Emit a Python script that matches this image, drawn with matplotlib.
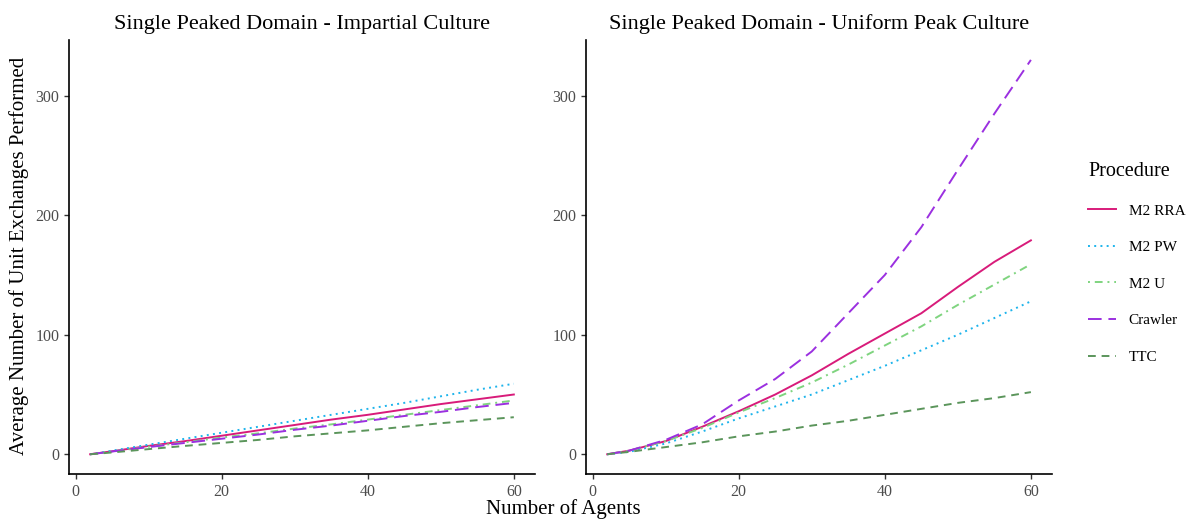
import matplotlib
matplotlib.use("Agg")
import matplotlib.pyplot as plt
from matplotlib.lines import Line2D

# number of agents
agents = [2, 5, 10, 15, 20, 25, 30, 35, 40, 45, 50, 55, 60]

procedures = ["M2 RRA", "M2 PW", "M2 U", "Crawler", "TTC"]

# impartial culture
ic_rra = [0, 2.5, 7, 11, 15.5, 20, 24.5, 29, 33, 37.5, 42, 46, 50]
ic_pw = [0, 3, 8, 13, 18, 23, 28, 33, 38, 43, 48.5, 54, 59]
ic_u = [0, 2.3, 6.3, 10, 14, 17.5, 21.5, 25, 29, 33, 37, 41, 45]
ic_crawler = [0, 2.3, 6, 9.5, 13, 16.5, 20.5, 24, 28, 32, 35.5, 39.5, 43]
ic_ttc = [0, 1.5, 4.3, 7, 9.5, 12, 15, 17.5, 20, 23, 26, 28.5, 31]

# uniform peak culture
up_rra = [0, 3, 11, 23, 36, 50, 66, 84, 101, 118, 140, 161, 179]
up_pw = [0, 2, 9, 19, 30, 40, 50, 62, 74, 87, 100, 114, 128]
up_u = [0, 3, 11, 22, 35, 47, 60, 75, 91, 107, 125, 142, 159]
up_crawler = [0, 3, 12, 25, 45, 63, 86, 118, 150, 190, 238, 285, 330]
up_ttc = [0, 2, 6, 10, 15, 19, 24, 28, 33, 38, 43, 47, 52]

colors = ["#D81B7A", "#1EB4EC", "#7FD47F", "#9B30E0", "#5B955B"]
styles = ["-", (0, (1, 2.2)), (0, (1, 2.5, 4, 2.5)), (0, (7, 3.5)), (0, (4, 3))]

plt.rcParams["font.family"] = ["Liberation Serif", "DejaVu Serif"]

fig = plt.figure(figsize=(11.95, 5.22), dpi=100)
ax1 = fig.add_axes([0.0577, 0.092, 0.39, 0.831])
ax2 = fig.add_axes([0.4904, 0.092, 0.39, 0.831])

panels = [
    (ax1, "Single Peaked Domain - Impartial Culture",
     [ic_rra, ic_pw, ic_u, ic_crawler, ic_ttc]),
    (ax2, "Single Peaked Domain - Uniform Peak Culture",
     [up_rra, up_pw, up_u, up_crawler, up_ttc]),
]

for ax, title, series in panels:
    for vals, c, ls, name in zip(series, colors, styles, procedures):
        ax.plot(agents, vals, color=c, linestyle=ls, linewidth=1.4, label=name)
    ax.set_xlim(-0.9, 62.9)
    ax.set_ylim(-16.5, 346.5)
    ax.set_xticks([0, 20, 40, 60])
    ax.set_yticks([0, 100, 200, 300])
    ax.set_title(title, fontsize=16, pad=8)
    for s in ["top", "right"]:
        ax.spines[s].set_visible(False)
    for s in ["left", "bottom"]:
        ax.spines[s].set_linewidth(1.2)
    ax.tick_params(length=3.5, width=1.0, labelsize=11.5, labelcolor="#4D4D4D",
                   color="#333333")

fig.text(0.471, 0.024, "Number of Agents", ha="center", va="center", fontsize=15)
fig.text(0.008, 0.51, "Average Number of Unit Exchanges Performed", rotation=90,
         ha="left", va="center", fontsize=15)

handles = [Line2D([], [], color=c, linestyle=ls, linewidth=1.4)
           for c, ls in zip(colors, styles)]
leg = fig.legend(handles, procedures, title="Procedure", loc="upper left",
                 bbox_to_anchor=(0.899, 0.716), frameon=False, fontsize=11,
                 title_fontsize=14.5, handlelength=1.85, labelspacing=1.5,
                 handletextpad=0.8)
leg._legend_box.align = "left"

fig.savefig("out.png", dpi=100)
